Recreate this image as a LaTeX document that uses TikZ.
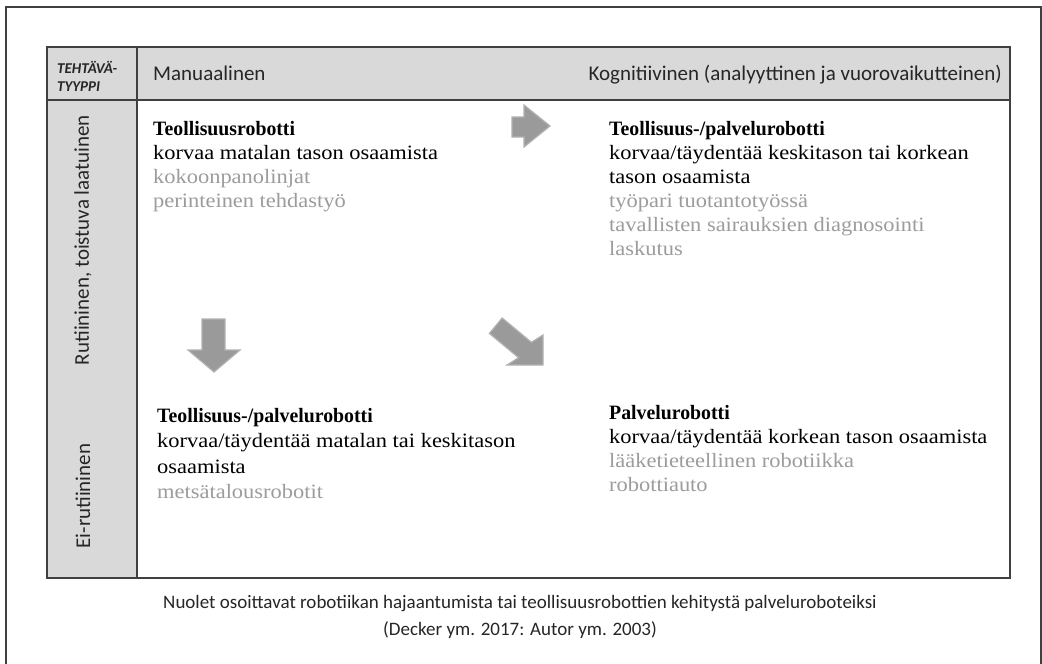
\documentclass[tikz,border=0pt]{standalone}
\usepackage{fontspec}
\setmainfont{Liberation Serif}[FakeStretch=1.1,BoldFeatures={FakeStretch=0.97}]
\newfontfamily\calfont{Carlito}
\definecolor{hdrgray}{HTML}{D9D9D9}
\definecolor{txtgray}{HTML}{9C9C9C}
\definecolor{arrgray}{HTML}{9A9A9A}
\definecolor{arredge}{HTML}{B2B2B2}
\definecolor{linegray}{HTML}{404040}
\begin{document}
\begin{tikzpicture}[x=1pt,y=-1pt,
  frameline/.style={draw=linegray,line width=1.3pt},
  blockarrow/.style={fill=arrgray,draw=arredge,line width=1.2pt,line join=miter},
  hdrtext/.style={inner sep=0pt,font=\calfont\fontsize{21}{24}\selectfont,text=black!85},
  sidetext/.style={inner sep=0pt,font=\calfont\fontsize{21}{24}\selectfont,text=black!85,rotate=90},
  celltext/.style={inner sep=0pt,anchor=north west,align=left,font=\fontsize{20.4}{24}\selectfont},
  celltextb/.style={inner sep=0pt,anchor=north west,align=left,font=\fontsize{20.4}{25.5}\selectfont},
  captext/.style={inner sep=0pt,font=\calfont\fontsize{19}{22}\selectfont,text=black!85}]
\useasboundingbox (0,0) rectangle (1042,664);
\fill[white] (0,0) rectangle (1042,664);
% outer frame (open at bottom)
\draw[draw=linegray,line width=1.5pt] (6,664) -- (6,7) -- (1041,7) -- (1041,664);
% table
\fill[hdrgray] (47,47) rectangle (1010,100);
\fill[hdrgray] (47,100) rectangle (137,578);
\draw[frameline] (47,47) rectangle (1010,578);
\draw[frameline] (47,100) -- (1010,100);
\draw[frameline] (137,47) -- (137,578);
% header texts
\node[inner sep=0pt,anchor=base west,font=\calfont\bfseries\itshape\fontsize{15}{18}\selectfont,align=left,text=black!85] (tt) at (57,91) {TEHTÄVÄ-\\TYYPPI};
\node[hdrtext,anchor=base west] (man) at (153,80) {Manuaalinen};
\node[hdrtext,anchor=base east] (kog) at (1002,80) {Kognitiivinen (analyyttinen ja vuorovaikutteinen)};
% side texts
\node[sidetext] (rut) at (83,240) {Rutiininen, toistuva laatuinen};
\node[sidetext] (eirut) at (83,496) {Ei-rutiininen};
% cells
\node[celltext] (c11) at (153,121) {\textbf{Teollisuusrobotti}\\korvaa matalan tason osaamista\\\textcolor{txtgray}{kokoonpanolinjat}\\\textcolor{txtgray}{perinteinen tehdastyö}};
\node[celltext] (c12) at (609,121) {\textbf{Teollisuus-/palvelurobotti}\\korvaa/täydentää keskitason tai korkean\\tason osaamista\\\textcolor{txtgray}{työpari tuotantotyössä}\\\textcolor{txtgray}{tavallisten sairauksien diagnosointi}\\\textcolor{txtgray}{laskutus}};
\node[celltextb] (c21) at (157,408) {\textbf{Teollisuus-/palvelurobotti}\\korvaa/täydentää matalan tai keskitason\\osaamista\\\textcolor{txtgray}{metsätalousrobotit}};
\node[celltext] (c22) at (609,405) {\textbf{Palvelurobotti}\\korvaa/täydentää korkean tason osaamista\\\textcolor{txtgray}{lääketieteellinen robotiikka}\\\textcolor{txtgray}{robottiauto}};
% block arrows
\draw[blockarrow] (512,117) -- (524,117) -- (524,105) -- (550,126) -- (524,147) -- (524,137) -- (512,137) -- cycle;
\draw[blockarrow] (202,319) -- (225,319) -- (225,350) -- (240,350) -- (214,372) -- (188,350) -- (202,350) -- cycle;
\draw[blockarrow] (502.2,318.0) -- (531.4,342.3) -- (543,335) -- (543,365) -- (507,365) -- (518.6,357.7) -- (489.4,333.4) -- cycle;
% caption
\node[captext] (cap1) at (520,604) {Nuolet osoittavat robotiikan hajaantumista tai teollisuusrobottien kehitystä palveluroboteiksi};
\node[captext] (cap2) at (520,630) {(Decker ym. 2017: Autor ym. 2003)};
\end{tikzpicture}
\end{document}
